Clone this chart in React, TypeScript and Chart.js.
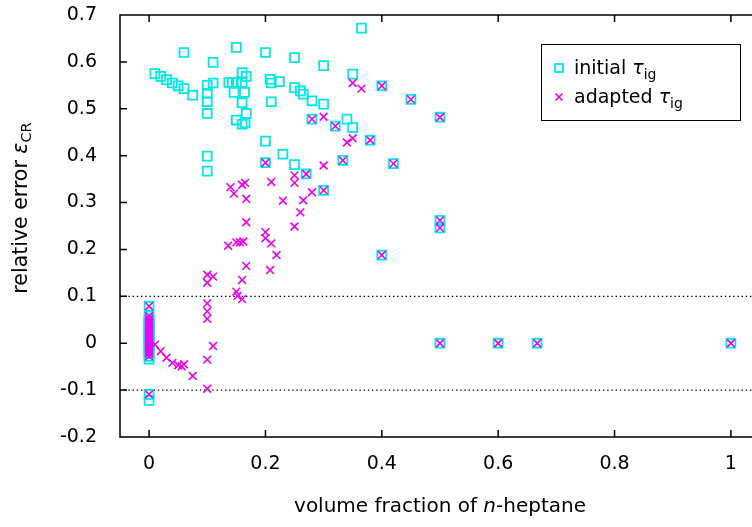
import React, { useEffect, useRef } from 'react';
import { Chart, registerables } from 'chart.js';

Chart.register(...registerables);

// ---- data ----
const initialX = [
  0.06, 0.11, 0.15, 0.2, 0.25, 0.3, 0.365, 0.35,
  0.01, 0.02, 0.03, 0.04, 0.05, 0.06, 0.075,
  0.1, 0.11, 0.1, 0.1, 0.1,
  0.137, 0.143, 0.15, 0.16, 0.167, 0.16, 0.146, 0.164, 0.16, 0.167, 0.15, 0.16, 0.165,
  0.208, 0.21, 0.224, 0.21,
  0.1, 0.1,
  0.2, 0.2, 0.23,
  0.25, 0.26, 0.265, 0.28, 0.3,
  0.4, 0.45, 0.5,
  0.28, 0.32, 0.34, 0.35, 0.38, 0.25, 0.333, 0.42, 0.27, 0.3, 0.5, 0.5, 0.4,
  0.5, 0.6, 0.667, 1,
  0, 0, 0, 0, 0, 0, 0, 0, 0, 0, 0, 0, 0, 0, 0, 0, 0, 0, 0, 0, 0, 0, 0, 0, 0,
];
const initialY = [
  0.62, 0.599, 0.631, 0.62, 0.609, 0.592, 0.672, 0.574,
  0.575, 0.569, 0.562, 0.555, 0.549, 0.543, 0.529,
  0.55, 0.555, 0.533, 0.515, 0.49,
  0.556, 0.556, 0.556, 0.577, 0.569, 0.556, 0.535, 0.535, 0.513, 0.49, 0.476, 0.467, 0.47,
  0.563, 0.555, 0.558, 0.515,
  0.399, 0.367,
  0.431, 0.385, 0.403,
  0.545, 0.538, 0.531, 0.517, 0.51,
  0.549, 0.52, 0.482,
  0.478, 0.463, 0.478, 0.46, 0.433, 0.381, 0.39, 0.383, 0.361, 0.326, 0.262, 0.246, 0.188,
  0, 0, 0, 0,
  0.079, 0.058, 0.052, 0.047, 0.043, 0.039, 0.035, 0.031, 0.027, 0.023, 0.019, 0.015, 0.011,
  0.007, 0.003, 0, -0.004, -0.008, -0.012, -0.017, -0.022, -0.028, -0.034, -0.109, -0.122,
];

const adaptedX = [
  0.35, 0.365, 0.4, 0.45, 0.5, 0.28, 0.3, 0.32, 0.35, 0.34, 0.38, 0.333, 0.42, 0.3, 0.25, 0.27, 0.2,
  0.25, 0.28, 0.3, 0.23, 0.265, 0.26, 0.25, 0.5, 0.5, 0.4,
  0.14, 0.146, 0.16, 0.165, 0.167, 0.21,
  0.167, 0.2, 0.2, 0.21, 0.136, 0.15, 0.156, 0.162, 0.219, 0.167, 0.208, 0.16,
  0.1, 0.1, 0.11, 0.15, 0.152, 0.16, 0.1, 0.1, 0.1,
  0.01, 0.02, 0.03, 0.04, 0.05, 0.056, 0.06, 0.075, 0.1, 0.11, 0.1,
  0.5, 0.6, 0.667, 1,
  0, 0, 0, 0, 0, 0, 0, 0, 0, 0, 0, 0, 0, 0, 0, 0, 0, 0, 0, 0, 0, 0, 0,
];
const adaptedY = [
  0.555, 0.543, 0.549, 0.52, 0.482, 0.478, 0.483, 0.463, 0.437, 0.428, 0.433, 0.39, 0.383, 0.379, 0.358, 0.361, 0.385,
  0.342, 0.322, 0.326, 0.304, 0.305, 0.279, 0.249, 0.262, 0.246, 0.188,
  0.333, 0.319, 0.338, 0.342, 0.308, 0.344,
  0.258, 0.237, 0.224, 0.213, 0.208, 0.215, 0.215, 0.217, 0.188, 0.165, 0.156, 0.135,
  0.146, 0.129, 0.142, 0.11, 0.101, 0.094, 0.085, 0.068, 0.052,
  -0.003, -0.017, -0.031, -0.042, -0.047, -0.049, -0.045, -0.07, -0.035, -0.006, -0.097,
  0, 0, 0, 0,
  0.079, 0.058, 0.052, 0.047, 0.043, 0.039, 0.035, 0.031, 0.027, 0.023, 0.019, 0.015, 0.011,
  0.007, 0.003, 0, -0.004, -0.008, -0.012, -0.017, -0.022, -0.028, -0.109,
];

const xTicks = [0, 0.2, 0.4, 0.6, 0.8, 1];
const yTicks = [-0.2, -0.1, 0, 0.1, 0.2, 0.3, 0.4, 0.5, 0.6, 0.7];
const refLevels = [0.1, -0.1];
const xRange = [-0.05, 1.05];
const yRange = [-0.2, 0.7];

const CYAN = 'rgb(0,232,232)';
const MAGENTA = 'rgb(238,0,238)';
const FAMILY = '"DejaVu Sans", sans-serif';

type Part = { t: string; size: number; italic?: boolean; dy?: number };

function richWidth(ctx: CanvasRenderingContext2D, parts: Part[]) {
  let w = 0;
  for (const p of parts) {
    ctx.font = `${p.italic ? 'italic ' : ''}${p.size}px ${FAMILY}`;
    w += ctx.measureText(p.t).width;
  }
  return w;
}

function drawRich(ctx: CanvasRenderingContext2D, parts: Part[], x: number, y: number, center: boolean) {
  let cx = center ? x - richWidth(ctx, parts) / 2 : x;
  ctx.textBaseline = 'alphabetic';
  ctx.textAlign = 'left';
  for (const p of parts) {
    ctx.font = `${p.italic ? 'italic ' : ''}${p.size}px ${FAMILY}`;
    ctx.fillText(p.t, cx, y + (p.dy || 0));
    cx += ctx.measureText(p.t).width;
  }
}

const decorPlugin = {
  id: 'decor',
  afterDraw(chart: any) {
    const ctx: CanvasRenderingContext2D = chart.ctx;
    const ca = chart.chartArea;
    const xs = chart.scales.x;
    const ys = chart.scales.y;
    ctx.save();
    ctx.strokeStyle = '#000';
    ctx.fillStyle = '#000';
    ctx.lineWidth = 1.5;
    ctx.beginPath();
    ctx.rect(ca.left, ca.top, ca.right - ca.left, ca.bottom - ca.top);
    const tl = 7;
    for (const v of xTicks) {
      const px = xs.getPixelForValue(v);
      ctx.moveTo(px, ca.bottom);
      ctx.lineTo(px, ca.bottom - tl);
      ctx.moveTo(px, ca.top);
      ctx.lineTo(px, ca.top + tl);
    }
    for (const v of yTicks) {
      const py = ys.getPixelForValue(v);
      ctx.moveTo(ca.left, py);
      ctx.lineTo(ca.left + tl, py);
      ctx.moveTo(ca.right, py);
      ctx.lineTo(ca.right - tl, py);
    }
    ctx.stroke();

    // x title
    drawRich(
      ctx,
      [
        { t: 'volume fraction of ', size: 20 },
        { t: 'n', size: 20, italic: true },
        { t: '-heptane', size: 20 },
      ],
      (ca.left + ca.right) / 2,
      512,
      true
    );

    // y title
    ctx.save();
    ctx.translate(20, 208);
    ctx.rotate(-Math.PI / 2);
    drawRich(
      ctx,
      [
        { t: 'relative error ', size: 20.5 },
        { t: 'ε', size: 20.5, italic: true },
        { t: 'CR', size: 14.5, dy: 4 },
      ],
      0,
      7,
      true
    );
    ctx.restore();

    // legend
    ctx.fillStyle = '#fff';
    ctx.fillRect(541, 44, 199, 76);
    ctx.lineWidth = 1;
    ctx.strokeStyle = '#000';
    ctx.strokeRect(541.5, 44.5, 199, 76);
    // square sample
    ctx.strokeStyle = CYAN;
    ctx.lineWidth = 1.8;
    ctx.strokeRect(559 - 4, 68 - 4, 8, 8);
    // cross sample
    ctx.strokeStyle = MAGENTA;
    ctx.lineWidth = 1.6;
    ctx.beginPath();
    ctx.moveTo(559 - 3.5, 97 - 3.5);
    ctx.lineTo(559 + 3.5, 97 + 3.5);
    ctx.moveTo(559 + 3.5, 97 - 3.5);
    ctx.lineTo(559 - 3.5, 97 + 3.5);
    ctx.stroke();
    ctx.fillStyle = '#000';
    drawRich(
      ctx,
      [
        { t: 'initial ', size: 19 },
        { t: 'τ', size: 19, italic: true },
        { t: 'ig', size: 14, dy: 5 },
      ],
      574,
      74,
      false
    );
    drawRich(
      ctx,
      [
        { t: 'adapted ', size: 19 },
        { t: 'τ', size: 19, italic: true },
        { t: 'ig', size: 14, dy: 5 },
      ],
      574,
      103,
      false
    );
    ctx.restore();
  },
};

const fmt = (v: any) => String(Math.round(Number(v) * 10) / 10);

export default function App() {
  const ref = useRef<HTMLCanvasElement | null>(null);
  useEffect(() => {
    document.body.style.margin = '0';
    document.body.style.overflow = 'hidden';
    if (!ref.current) return;
    const chart = new Chart(ref.current, {
      type: 'scatter',
      data: {
        datasets: [
          {
            label: 'adapted',
            data: adaptedX.map((x, i) => ({ x, y: adaptedY[i] })),
            pointStyle: 'crossRot',
            pointRadius: 5.5,
            pointBorderWidth: 1.6,
            borderColor: MAGENTA,
            backgroundColor: MAGENTA,
            order: 1,
          } as any,
          {
            label: 'initial',
            data: initialX.map((x, i) => ({ x, y: initialY[i] })),
            pointStyle: 'rect',
            pointRadius: 6.3,
            pointBorderWidth: 1.8,
            borderColor: CYAN,
            backgroundColor: 'rgba(0,0,0,0)',
            order: 2,
          } as any,
          ...refLevels.map(
            (lv) =>
              ({
                type: 'line',
                label: 'ref ' + lv,
                data: [
                  { x: xRange[0], y: lv },
                  { x: xRange[1], y: lv },
                ],
                borderColor: '#000',
                borderWidth: 1.4,
                borderDash: [1.4, 2.8],
                pointRadius: 0,
                showLine: true,
                fill: false,
                order: 3,
              } as any)
          ),
        ],
      },
      options: {
        responsive: false,
        animation: false,
        layout: { padding: { top: 15, right: 20, left: 0, bottom: 0 } },
        plugins: { legend: { display: false }, tooltip: { enabled: false } },
        scales: {
          x: {
            type: 'linear',
            min: xRange[0],
            max: xRange[1],
            afterBuildTicks: (s: any) => {
              s.ticks = xTicks.map((v) => ({ value: v }));
            },
            afterFit: (s: any) => {
              s.height = 90;
              s.paddingLeft = 0;
              s.paddingRight = 0;
            },
            grid: { display: false, drawTicks: false },
            border: { display: false },
            ticks: {
              color: '#000',
              font: { family: FAMILY, size: 19 },
              padding: 16,
              maxRotation: 0,
              autoSkip: false,
              callback: fmt,
            },
          },
          y: {
            type: 'linear',
            min: yRange[0],
            max: yRange[1],
            afterBuildTicks: (s: any) => {
              s.ticks = yTicks.map((v) => ({ value: v }));
            },
            afterFit: (s: any) => {
              s.width = 120;
              s.paddingTop = 0;
              s.paddingBottom = 0;
            },
            grid: { display: false, drawTicks: false },
            border: { display: false },
            ticks: {
              color: '#000',
              font: { family: FAMILY, size: 19 },
              padding: 23,
              autoSkip: false,
              callback: fmt,
            },
          },
        },
      } as any,
      plugins: [decorPlugin],
    });
    return () => chart.destroy();
  }, []);
  return (
    <canvas
      ref={ref}
      width={780}
      height={527}
      style={{ position: 'fixed', left: 0, top: 0, display: 'block' }}
    />
  );
}
